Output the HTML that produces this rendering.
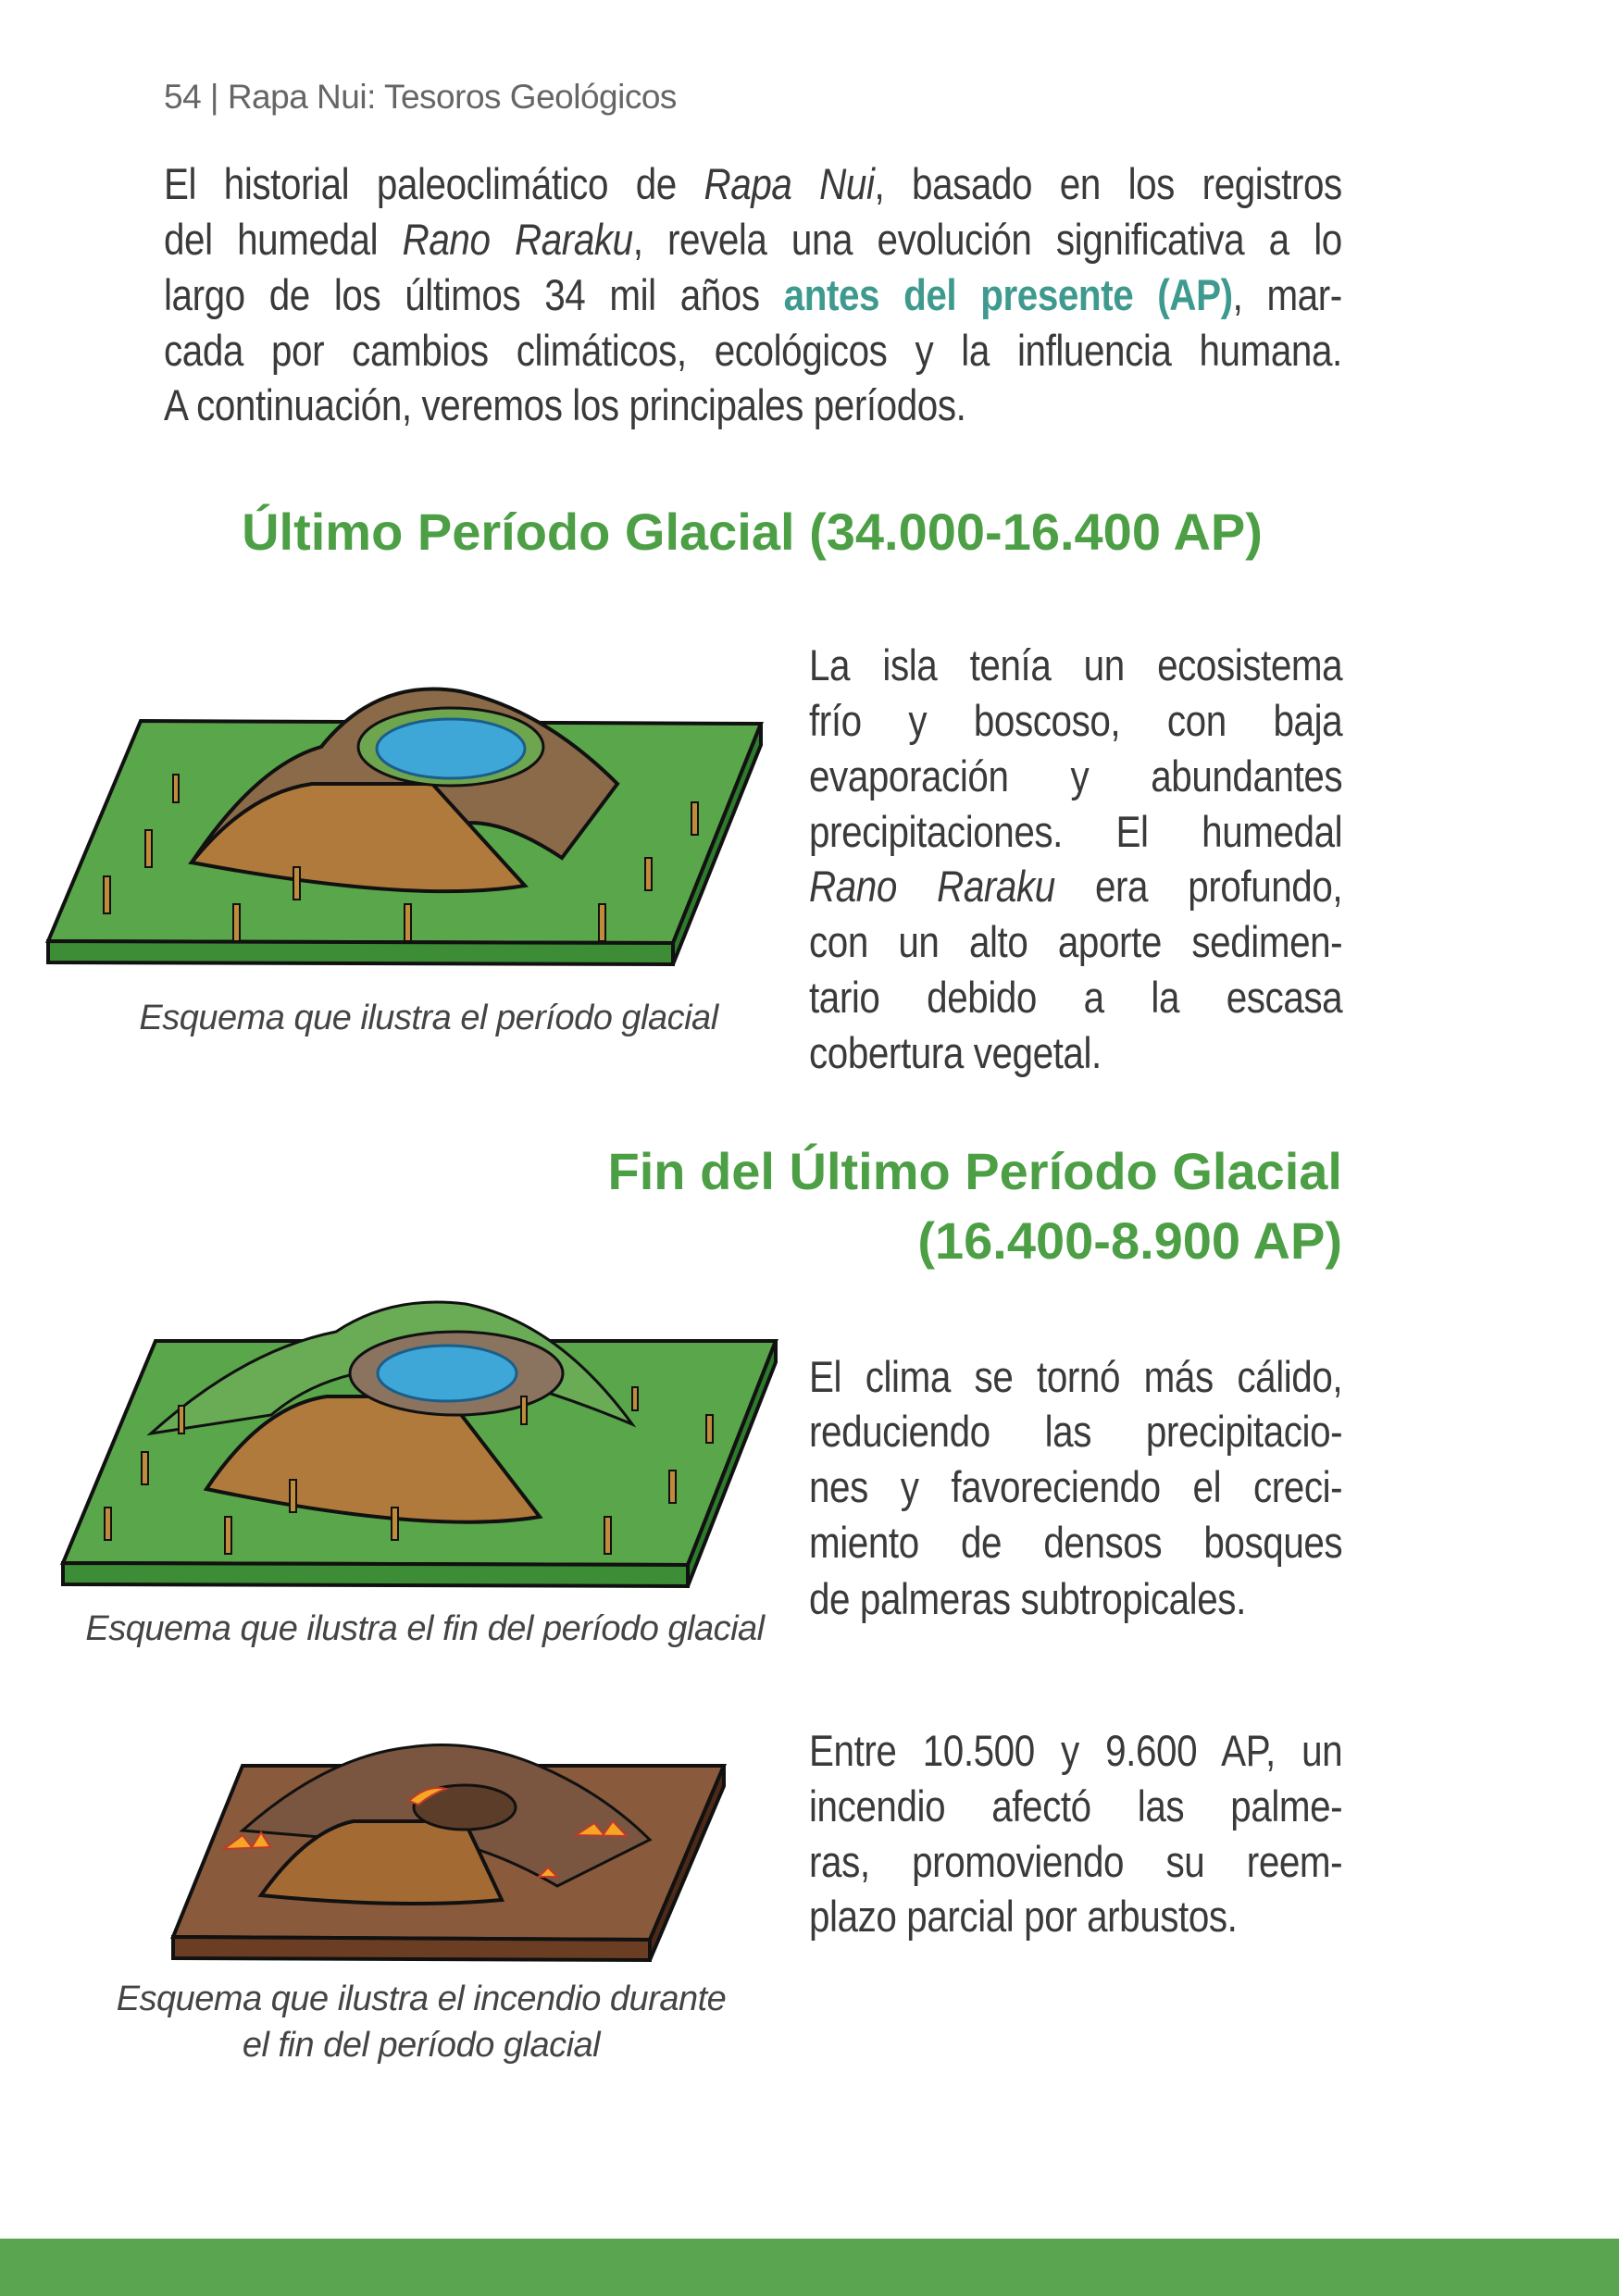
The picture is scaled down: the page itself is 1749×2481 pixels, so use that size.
<!DOCTYPE html>
<html lang="es">
<head>
<meta charset="utf-8">
<style>
  html,body{margin:0;padding:0;}
  body{width:1749px;height:2481px;position:relative;background:#fff;overflow:hidden;
       font-family:"Liberation Sans",sans-serif;color:#3a3a3a;}
  .ln{position:absolute;height:60px;line-height:60px;white-space:nowrap;font-size:47px;
      text-align:justify;text-align-last:justify;letter-spacing:-0.5px;transform:scaleX(0.86);transform-origin:0 0;}
  .ln.last{text-align-last:left;}
  .w1{width:1480px;left:177px;}
  .w2{width:670px;left:874px;}
  .h{position:absolute;color:#4c9f45;font-weight:bold;font-size:56px;white-space:nowrap;line-height:70px;}
  .cap{position:absolute;font-style:italic;font-size:38px;color:#444;text-align:center;white-space:nowrap;line-height:50px;letter-spacing:-0.5px;}
  .teal{color:#3e9a8e;font-weight:bold;}
  svg{position:absolute;}
</style>
</head>
<body>
<div style="position:absolute;left:177px;top:80px;font-size:37px;color:#666;line-height:50px;letter-spacing:-0.5px;">54 | Rapa Nui: Tesoros Geológicos</div>

<div>
  <div class="ln w1" style="top:169px;">El historial paleoclimático de <i>Rapa Nui</i>, basado en los registros</div>
  <div class="ln w1" style="top:229px;">del humedal <i>Rano Raraku</i>, revela una evolución significativa a lo</div>
  <div class="ln w1" style="top:289px;">largo de los últimos 34 mil años <span class="teal">antes del presente (AP)</span>, mar-</div>
  <div class="ln w1" style="top:349px;">cada por cambios climáticos, ecológicos y la influencia humana.</div>
  <div class="ln w1 last" style="top:408px;">A continuación, veremos los principales períodos.</div>
</div>

<div class="h" style="left:0;width:1625px;text-align:center;top:540px;">Último Período Glacial (34.000-16.400 AP)</div>

<svg style="left:47px;top:727px;" width="780" height="330" viewBox="0 0 780 330">
  <polygon points="5,290 680,292 775,55 105,52" fill="#5aa64a" stroke="#111" stroke-width="4"/>
  <polygon points="5,290 680,292 680,315 5,313" fill="#3d8d36" stroke="#111" stroke-width="4"/>
  <polygon points="680,292 775,55 775,78 680,315" fill="#2f7a2c" stroke="#111" stroke-width="4"/>
  <path d="M160,205 Q230,100 300,80 Q360,5 450,20 Q540,40 620,120 L560,200 Q470,140 420,175 Q360,235 290,210 Z" fill="#8a6a48" stroke="#111" stroke-width="4"/>
  <path d="M160,205 Q220,130 290,120 L420,120 L520,230 Q400,250 160,205 Z" fill="#b07a3c" stroke="#111" stroke-width="4"/>
  <ellipse cx="440" cy="80" rx="100" ry="42" fill="#6ea54f" stroke="#111" stroke-width="3"/>
  <ellipse cx="440" cy="82" rx="80" ry="32" fill="#3ea7d8" stroke="#1b5e8a" stroke-width="3"/>
  <g fill="#c08b3a" stroke="#111" stroke-width="2">
    <rect x="65" y="220" width="7" height="40"/><rect x="110" y="170" width="7" height="40"/><rect x="205" y="250" width="7" height="40"/>
    <rect x="270" y="210" width="7" height="35"/><rect x="390" y="250" width="7" height="40"/><rect x="600" y="250" width="7" height="40"/>
    <rect x="650" y="200" width="7" height="35"/><rect x="700" y="140" width="7" height="35"/><rect x="140" y="110" width="6" height="30"/>
  </g>
</svg>
<div class="cap" style="left:113px;width:700px;top:1075px;">Esquema que ilustra el período glacial</div>

<div>
  <div class="ln w2" style="top:689px;">La isla tenía un ecosistema</div>
  <div class="ln w2" style="top:749px;">frío y boscoso, con baja</div>
  <div class="ln w2" style="top:809px;">evaporación y abundantes</div>
  <div class="ln w2" style="top:869px;">precipitaciones. El humedal</div>
  <div class="ln w2" style="top:928px;"><i>Rano Raraku</i> era profundo,</div>
  <div class="ln w2" style="top:988px;">con un alto aporte sedimen-</div>
  <div class="ln w2" style="top:1048px;">tario debido a la escasa</div>
  <div class="ln w2 last" style="top:1108px;">cobertura vegetal.</div>
</div>

<div class="h" style="right:299px;text-align:right;top:1231px;">Fin del Último Período Glacial</div>
<div class="h" style="right:299px;text-align:right;top:1306px;">(16.400-8.900 AP)</div>

<svg style="left:63px;top:1399px;" width="780" height="330" viewBox="0 0 780 330">
  <polygon points="5,290 680,292 775,50 105,50" fill="#5aa64a" stroke="#111" stroke-width="4"/>
  <polygon points="5,290 680,292 680,315 5,313" fill="#3d8d36" stroke="#111" stroke-width="4"/>
  <polygon points="680,292 775,50 775,73 680,315" fill="#2f7a2c" stroke="#111" stroke-width="4"/>
  <path d="M100,150 Q200,60 300,40 Q360,0 440,10 Q540,30 620,140 Q500,90 420,80 Q300,70 230,130 Z" fill="#6aac55" stroke="#111" stroke-width="3"/>
  <path d="M160,210 Q220,120 290,110 L420,110 L520,240 Q400,260 160,210 Z" fill="#b07a3c" stroke="#111" stroke-width="4"/>
  <ellipse cx="430" cy="85" rx="115" ry="45" fill="#8a7460" stroke="#111" stroke-width="3"/>
  <ellipse cx="420" cy="85" rx="75" ry="30" fill="#3ea7d8" stroke="#1b5e8a" stroke-width="3"/>
  <g fill="#c08b3a" stroke="#111" stroke-width="2">
    <rect x="50" y="230" width="7" height="35"/><rect x="90" y="170" width="7" height="35"/><rect x="180" y="240" width="7" height="40"/>
    <rect x="250" y="200" width="7" height="35"/><rect x="360" y="230" width="7" height="35"/><rect x="590" y="240" width="7" height="40"/>
    <rect x="660" y="190" width="7" height="35"/><rect x="700" y="130" width="7" height="30"/><rect x="130" y="120" width="6" height="30"/>
    <rect x="500" y="110" width="6" height="30"/><rect x="620" y="100" width="6" height="25"/>
  </g>
</svg>
<div class="cap" style="left:54px;width:810px;top:1735px;">Esquema que ilustra el fin del período glacial</div>

<div>
  <div class="ln w2" style="top:1458px;">El clima se tornó más cálido,</div>
  <div class="ln w2" style="top:1517px;">reduciendo las precipitacio-</div>
  <div class="ln w2" style="top:1577px;">nes y favoreciendo el creci-</div>
  <div class="ln w2" style="top:1637px;">miento de densos bosques</div>
  <div class="ln w2 last" style="top:1698px;">de palmeras subtropicales.</div>
</div>

<svg style="left:182px;top:1878px;" width="610" height="250" viewBox="0 0 610 250">
  <polygon points="5,215 520,218 600,30 80,30" fill="#8a5a3c" stroke="#111" stroke-width="4"/>
  <polygon points="5,215 520,218 520,240 5,238" fill="#6b3e24" stroke="#111" stroke-width="4"/>
  <polygon points="520,218 600,30 600,52 520,240" fill="#4d2a18" stroke="#111" stroke-width="4"/>
  <path d="M80,100 Q170,20 260,10 Q330,0 400,30 Q470,60 520,110 L420,160 Q300,90 200,110 Z" fill="#7a5540" stroke="#111" stroke-width="3"/>
  <path d="M100,170 Q150,100 200,90 L320,90 L360,175 Q250,185 100,170 Z" fill="#a46a34" stroke="#111" stroke-width="4"/>
  <ellipse cx="320" cy="75" rx="55" ry="24" fill="#5c3d2a" stroke="#111" stroke-width="3"/>
  <g fill="#f5a623" stroke="#c0392b" stroke-width="2">
    <path d="M260,68 Q280,50 300,55 Q285,60 270,72 Z"/>
    <path d="M60,120 L80,105 L90,118 L100,102 L110,118 Z"/>
    <path d="M440,105 L460,92 L470,104 L480,90 L495,106 Z"/>
    <path d="M400,150 L410,140 L420,150 Z"/>
  </g>
</svg>
<div class="cap" style="left:55px;width:800px;top:2135px;">Esquema que ilustra el incendio durante</div>
<div class="cap" style="left:55px;width:800px;top:2185px;">el fin del período glacial</div>

<div>
  <div class="ln w2" style="top:1862px;">Entre 10.500 y 9.600 AP, un</div>
  <div class="ln w2" style="top:1922px;">incendio afectó las palme-</div>
  <div class="ln w2" style="top:1982px;">ras, promoviendo su reem-</div>
  <div class="ln w2 last" style="top:2041px;">plazo parcial por arbustos.</div>
</div>

<div style="position:absolute;left:0;top:2419px;width:1749px;height:62px;background:#5aa550;"></div>
</body>
</html>
